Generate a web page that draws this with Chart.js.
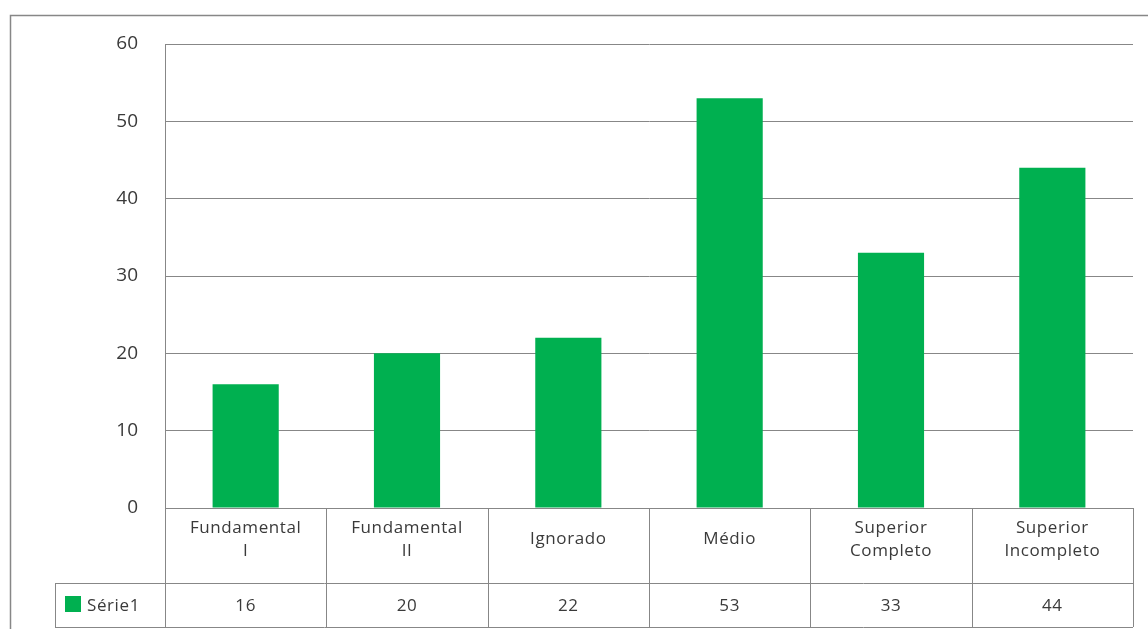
<!DOCTYPE html>
<html>
<head>
<meta charset="utf-8">
<script src="https://cdn.jsdelivr.net/npm/chart.js@4/dist/chart.umd.min.js"></script>
<style>
  html, body { margin: 0; padding: 0; background: #fff; }
  #wrap { width: 1148px; height: 629px; position: relative; }
</style>
</head>
<body>
<div id="wrap"><canvas id="chart"></canvas></div>
<script>
// data
var categories = [['Fundamental', 'I'], ['Fundamental', 'II'], ['Ignorado'], ['Médio'], ['Superior', 'Completo'], ['Superior', 'Incompleto']];
var serie1 = [16, 20, 22, 53, 33, 44];
var seriesName = 'Série1';
var yTicks = [0, 10, 20, 30, 40, 50, 60];

var green = '#00b050';
var lineColor = '#878787';
var textColor = '#3a3a3a';
var fontFamily = '"Open Sans", "DejaVu Sans", sans-serif';

// outer frame, cut off at the right and bottom like the screenshot
var framePlugin = {
    id: 'frame',
    beforeDraw: function (chart) {
        var ctx = chart.ctx;
        ctx.save();
        ctx.strokeStyle = lineColor;
        ctx.lineWidth = 1.5;
        ctx.strokeRect(10.5, 15.5, 1400, 800);
        ctx.restore();
    }
};

// data table under the plot (categories row + series row)
var tablePlugin = {
    id: 'dataTable',
    afterDraw: function (chart) {
        var ctx = chart.ctx;
        var area = chart.chartArea;
        var x = chart.scales.x;
        var n = categories.length;
        var colW = (area.right - area.left) / n;
        var top = area.bottom;
        var mid = top + 75;
        var bot = top + 119;
        var labelLeft = 55;

        ctx.save();
        ctx.strokeStyle = lineColor;
        ctx.lineWidth = 1;
        ctx.beginPath();
        ctx.moveTo(labelLeft, mid + 0.5); ctx.lineTo(area.right, mid + 0.5);
        ctx.moveTo(labelLeft, bot + 0.5); ctx.lineTo(area.right, bot + 0.5);
        ctx.moveTo(labelLeft + 0.5, mid); ctx.lineTo(labelLeft + 0.5, bot);
        for (var i = 0; i <= n; i++) {
            var cx = Math.round(area.left + i * colW) + 0.5;
            ctx.moveTo(cx, top); ctx.lineTo(cx, bot);
        }
        ctx.stroke();

        ctx.fillStyle = textColor;
        ctx.font = '17px ' + fontFamily;
        ctx.letterSpacing = '0.6px';
        ctx.textAlign = 'center';
        ctx.textBaseline = 'middle';
        var lineH = 23;
        categories.forEach(function (lab, i) {
            var px = x.getPixelForValue(i);
            var y0 = (top + mid) / 2 - 6 - (lab.length - 1) * lineH / 2;
            lab.forEach(function (t, j) {
                ctx.fillText(t, px, y0 + j * lineH);
            });
            ctx.fillText(String(serie1[i]), px, (mid + bot) / 2 + 1);
        });

        // legend key + series name
        ctx.fillStyle = green;
        ctx.fillRect(65, 596, 16, 16);
        ctx.fillStyle = textColor;
        ctx.textAlign = 'left';
        ctx.fillText(seriesName, 87, (mid + bot) / 2 + 1);
        ctx.restore();
    }
};

var barChart = new Chart(document.getElementById('chart'), {
    type: 'bar',
    data: {
        labels: categories,
        datasets: [{
            label: seriesName,
            data: serie1,
            backgroundColor: green,
            borderWidth: 0,
            categoryPercentage: 1,
            barPercentage: 0.41
        }]
    },
    options: {
        responsive: true,
        maintainAspectRatio: false,
        animation: false,
        layout: { padding: { left: 0, top: 44, right: 15, bottom: 121 } },
        plugins: {
            legend: { display: false },
            tooltip: { enabled: false }
        },
        scales: {
            x: {
                display: false,
                grid: { display: false }
            },
            y: {
                min: 0,
                max: 60,
                afterBuildTicks: function (scale) {
                    scale.ticks = yTicks.map(function (v) { return { value: v }; });
                },
                afterFit: function (scale) { scale.width = 165; },
                grid: { color: lineColor, drawTicks: false, lineWidth: 1 },
                border: { display: true, color: lineColor, width: 1 },
                ticks: {
                    color: textColor,
                    padding: 27,
                    font: { family: fontFamily, size: 19 }
                }
            }
        }
    },
    plugins: [framePlugin, tablePlugin]
});
</script>
</body>
</html>
